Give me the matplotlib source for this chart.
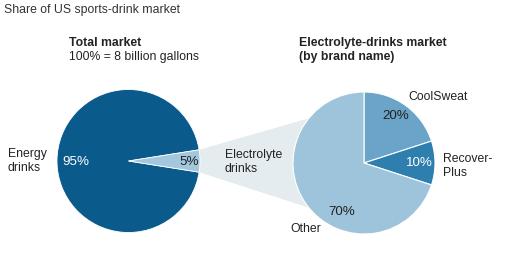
import numpy as np
import matplotlib
matplotlib.use("Agg")
import matplotlib.pyplot as plt
from matplotlib.patches import Polygon

plt.rcParams['font.family'] = ['Liberation Sans', 'DejaVu Sans']

# data
total_labels = ['Energy\ndrinks', 'Electrolyte\ndrinks']
total_values = [95, 5]
total_pcts = ['95%', '5%']
brand_labels = ['CoolSweat', 'Recover-\nPlus', 'Other']
brand_values = [20, 10, 70]
brand_pcts = ['20%', '10%', '70%']

# colours
c_energy = '#0b5a8c'
c_electro = '#a3c7dc'
c_connect = '#e4ecf0'
brand_colors = ['#6aa4c8', '#2e7fae', '#9dc4da']
txt = '#222222'

W, H = 510, 255
fig = plt.figure(figsize=(W / 100, H / 100), dpi=100)
ax = fig.add_axes([0, 0, 1, 1])

# pie geometry (pixel units, y up)
c1, r1 = (128.5, 93.0), 71.5
c2, r2 = (364.0, 91.0), 71.0

# connector from the small slice to the brand pie (behind everything)
half = 360 * total_values[1] / sum(total_values) / 2
a1 = np.radians(half)
a2 = np.radians(141)
pts = [
    (c1[0] + r1 * np.cos(a1), c1[1] + r1 * np.sin(a1)),
    (c2[0] + r2 * np.cos(a2), c2[1] + r2 * np.sin(a2)),
    c2,
    (c2[0] + r2 * np.cos(a2), c2[1] - r2 * np.sin(a2)),
    (c1[0] + r1 * np.cos(a1), c1[1] - r1 * np.sin(a1)),
]
ax.add_patch(Polygon(pts, closed=True, facecolor=c_connect, edgecolor='none', zorder=0))

# total market pie
ax.pie(total_values, colors=[c_energy, c_electro], center=c1, radius=r1,
       startangle=half, counterclock=True, frame=True,
       wedgeprops=dict(edgecolor='white', linewidth=0.6))

# brand pie
ax.pie(brand_values, colors=brand_colors, center=c2, radius=r2,
       startangle=90, counterclock=False, frame=True,
       wedgeprops=dict(edgecolor='white', linewidth=0.8))

ax.set_xlim(0, W)
ax.set_ylim(0, H)
ax.set_aspect('equal')
ax.axis('off')

fs = 8.8
pfs = 9.6
def put(x, y, s, **kw):
    kw.setdefault('color', txt)
    kw.setdefault('fontsize', fs)
    ax.text(x, H - y, s, va='center', linespacing=1.3, **kw)

put(4, 10, 'Share of US sports-drink market', color='#333333')
put(69, 43, 'Total market', fontweight='bold')
put(69, 57, '100% = 8 billion gallons')
put(299, 43, 'Electrolyte-drinks market', fontweight='bold')
put(299, 57, '(by brand name)', fontweight='bold')

put(8, 161, total_labels[0])
put(62, 162, total_pcts[0], color='white', fontsize=pfs)
put(179, 162, total_pcts[1], fontsize=pfs)
put(225, 162, total_labels[1])

put(408, 97, brand_labels[0])
put(382, 116, brand_pcts[0], fontsize=pfs)
put(406, 163, brand_pcts[1], color='white', fontsize=pfs)
put(443, 166, brand_labels[1])
put(328, 212, brand_pcts[2], fontsize=pfs)
put(290, 229, brand_labels[2])

fig.savefig('out.png', dpi=100)
